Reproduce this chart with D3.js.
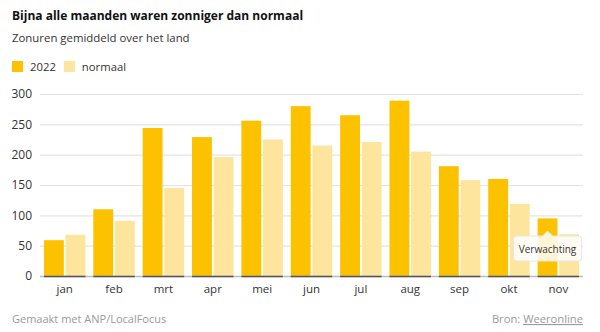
<!DOCTYPE html>
<html><head><meta charset="utf-8">
<script src="https://cdn.jsdelivr.net/npm/d3@7"></script>
<style>
body{margin:0;background:#fff;font-family:"Open Sans",sans-serif;}
svg{display:block;}
</style></head>
<body><svg id="c" width="600" height="332"></svg>
<script>
const months = ["jan","feb","mrt","apr","mei","jun","jul","aug","sep","okt","nov"];
const values2022 = [59,110,244,229,256,280,265,289,181,160,95];
const valuesNormaal = [68,91,145,196,225,215,221,205,158,119,69];
const seriesNames = ["2022","normaal"];
const yTicks = [0,50,100,150,200,250,300];
const colors = {"2022":"#fcc200","normaal":"#fee59d"};

const svg = d3.select("#c");
const m = {left:40, right:583, top:94, bottom:276};

svg.append("text").attr("x",12).attr("y",20).attr("font-size",12).attr("font-weight",700).attr("fill","#111")
  .text("Bijna alle maanden waren zonniger dan normaal");
svg.append("text").attr("x",12).attr("y",42).attr("font-size",11.4).attr("fill","#333")
  .text("Zonuren gemiddeld over het land");

// legend
const leg = svg.append("g");
let lx = 12;
seriesNames.forEach(s=>{
  leg.append("rect").attr("x",lx).attr("y",61).attr("width",11).attr("height",11).attr("fill",colors[s]);
  const t = leg.append("text").attr("x",lx+18).attr("y",71).attr("font-size",11.3).attr("fill","#333").text(s);
  lx += 18 + t.node().getComputedTextLength() + 8;
});

const y = d3.scaleLinear().domain([0,300]).range([m.bottom,m.top]);
const x = d3.scaleBand().domain(months).range([m.left,m.right]).paddingInner(0.16).paddingOuter(0.08);
const x1 = d3.scaleBand().domain(seriesNames).range([0,x.bandwidth()]).paddingInner(0.08);

// grid
const yAxis = d3.axisLeft(y).tickValues(yTicks).tickSize(-(m.right-m.left)).tickPadding(8);
const ga = svg.append("g").attr("transform",`translate(${m.left},0)`).call(yAxis);
ga.select(".domain").remove();
ga.selectAll(".tick line").attr("stroke","#e3e3e3").attr("stroke-width",1.2);
ga.selectAll(".tick text").attr("font-size",12).attr("fill","#333").attr("font-family","Open Sans, sans-serif");

// bars
const data = months.map((mo,i)=>({month:mo, vals:[{s:"2022",v:values2022[i]},{s:"normaal",v:valuesNormaal[i]}]}));
const g = svg.append("g");
const grp = g.selectAll("g").data(data).join("g").attr("transform",d=>`translate(${x(d.month)},0)`);
grp.selectAll("rect").data(d=>d.vals).join("rect")
  .attr("x",d=>x1(d.s)).attr("width",x1.bandwidth())
  .attr("y",d=>y(d.v)).attr("height",d=>y(0)-y(d.v)).attr("fill",d=>colors[d.s]);

// baseline
svg.append("line").attr("x1",m.left).attr("x2",m.right).attr("y1",y(0)+0.5).attr("y2",y(0)+0.5).attr("stroke","#bbb").attr("stroke-width",1.5);
months.forEach(mo=>{
  svg.append("line").attr("x1",x(mo)).attr("x2",x(mo)+x.bandwidth()).attr("y1",y(0)+0.5).attr("y2",y(0)+0.5).attr("stroke","#555").attr("stroke-width",1.5);
});

// x axis labels
const xAxis = d3.axisBottom(x).tickSize(0).tickPadding(9);
const gx = svg.append("g").attr("transform",`translate(0,${m.bottom})`).call(xAxis);
gx.select(".domain").remove();
gx.selectAll(".tick text").attr("font-size",11.5).attr("fill","#333").attr("font-family","Open Sans, sans-serif");

// tooltip
const last = months[months.length-1];
const cx = x(last) + x1("2022") + x1.bandwidth()/2;
const tipY = 236, tipW = 68, tipH = 25;
const tipX = Math.min(cx - tipW/2, m.right - tipW - 1);
const tip = svg.append("g");
tip.append("path")
  .attr("d",`M${tipX+3},${tipY} L${cx-5},${tipY} L${cx},${tipY-5} L${cx+5},${tipY} L${tipX+tipW-3},${tipY} Q${tipX+tipW},${tipY} ${tipX+tipW},${tipY+3} L${tipX+tipW},${tipY+tipH-3} Q${tipX+tipW},${tipY+tipH} ${tipX+tipW-3},${tipY+tipH} L${tipX+3},${tipY+tipH} Q${tipX},${tipY+tipH} ${tipX},${tipY+tipH-3} L${tipX},${tipY+3} Q${tipX},${tipY} ${tipX+3},${tipY} Z`)
  .attr("fill","rgba(255,255,255,0.85)").attr("stroke","#e6e6e6");
tip.append("text").attr("x",tipX+tipW/2).attr("y",tipY+16.5).attr("text-anchor","middle").attr("font-size",10).attr("fill","#333").text("Verwachting");

// footer
svg.append("text").attr("x",12).attr("y",323).attr("font-size",11).attr("fill","#9a9a9a").text("Gemaakt met ANP/LocalFocus");
const bron = svg.append("text").attr("x",583).attr("y",323).attr("font-size",11.2).attr("fill","#9a9a9a").attr("text-anchor","end");
bron.append("tspan").text("Bron: ");
bron.append("tspan").attr("text-decoration","underline").text("Weeronline");
</script></body></html>
